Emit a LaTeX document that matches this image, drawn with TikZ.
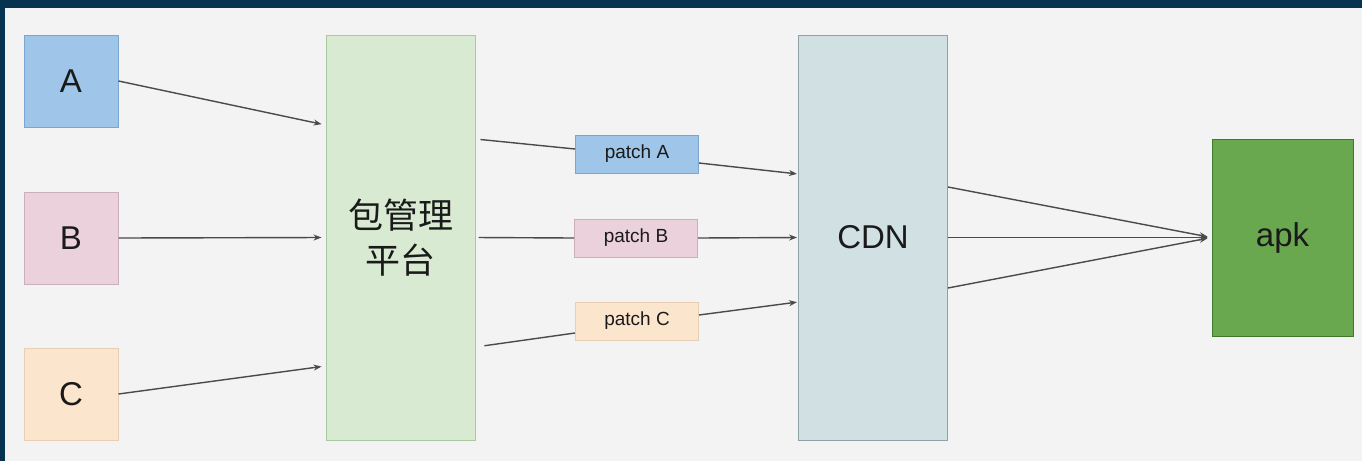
\documentclass[tikz,border=0pt]{standalone}
\usepackage{fontspec}
\setmainfont{Liberation Sans}
\newfontfamily\cjk{Noto Sans CJK SC}
\usetikzlibrary{arrows.meta}
\definecolor{bg}{HTML}{F3F3F3}
\definecolor{navy}{HTML}{063450}
\definecolor{cA}{HTML}{9FC5E8}\definecolor{dA}{HTML}{7AA6CF}
\definecolor{cB}{HTML}{EAD1DC}\definecolor{dB}{HTML}{CDAFBC}
\definecolor{cC}{HTML}{FCE5CD}\definecolor{dC}{HTML}{E8CFB3}
\definecolor{cP}{HTML}{D9EAD3}\definecolor{dP}{HTML}{A9C99F}
\definecolor{cD}{HTML}{D0E0E3}\definecolor{dD}{HTML}{8FA3A7}
\definecolor{cK}{HTML}{6AA84F}\definecolor{dK}{HTML}{3E7A27}
\definecolor{ln}{HTML}{4A4A4A}
\definecolor{tx}{HTML}{1A1A1A}
\begin{document}
\begin{tikzpicture}[x=1pt,y=-1pt,
  box/.style={draw, line width=1pt, inner sep=0pt, text=tx},
  src/.style={box, minimum width=94pt, minimum height=92pt, font=\fontsize{33}{36}\selectfont},
  tall/.style={box, minimum width=149pt, minimum height=405pt},
  patchbox/.style={box, minimum width=123pt, minimum height=38pt, font=\fontsize{19}{22}\selectfont},
  conn/.style={draw=ln, line width=1.4pt},
  arr/.style={conn, -{Stealth[length=8pt,width=6pt]}}]
\fill[bg] (0,0) rectangle (1362,461);
\fill[navy] (0,0) rectangle (1362,8);
\fill[navy] (0,0) rectangle (5,461);

\node[src, fill=cA, draw=dA] (A) at (71,81) {A};
\node[src, fill=cB, draw=dB] (B) at (71,238) {B};
\node[src, fill=cC, draw=dC] (C) at (71,394) {C};

\node[tall, fill=cP, draw=dP, align=center, font=\cjk\fontsize{35}{45}\selectfont] (pkg) at (400.5,237.5) {包管理\\平台};
\node[tall, fill=cD, draw=dD, font=\fontsize{33}{36}\selectfont] (cdn) at (873,237.5) {CDN};
\node[box, fill=cK, draw=dK, minimum width=141pt, minimum height=197pt, font=\fontsize{33}{36}\selectfont] (apk) at (1282.5,237.5) {apk};

\node[patchbox, fill=cA, draw=dA] (pA) at (637,154) {patch A};
\node[patchbox, fill=cB, draw=dB] (pB) at (636,238) {patch B};
\node[patchbox, fill=cC, draw=dC] (pC) at (637,321) {patch C};

% sources to platform
\draw[arr, shorten >=4pt] (A.east) -- ([yshift=112.5pt]pkg.west);
\draw[arr, shorten >=4pt] (B.east) -- (pkg.west);
\draw[arr, shorten >=4pt] (C.east) -- ([yshift=-128.5pt]pkg.west);

% platform to patches
\draw[conn, shorten <=5pt] ([yshift=98.5pt]pkg.east) -- ([yshift=5pt]pA.west);
\draw[conn, shorten <=3pt] (pkg.east) -- (pB.west);
\draw[conn, shorten <=9pt] ([yshift=-109.5pt]pkg.east) -- ([yshift=-12pt]pC.west);

% patches to CDN
\draw[arr, shorten >=1pt] ([yshift=-9pt]pA.east) -- ([yshift=63.5pt]cdn.west);
\draw[arr, shorten >=1pt] (pB.east) -- (cdn.west);
\draw[arr, shorten >=1pt] ([yshift=6pt]pC.east) -- ([yshift=-64.5pt]cdn.west);

% CDN to apk
\draw[arr, shorten >=4pt] ([yshift=50.5pt]cdn.east) -- (apk.west);
\draw[arr, shorten >=4pt] (cdn.east) -- (apk.west);
\draw[arr, shorten >=4pt] ([yshift=-50.5pt]cdn.east) -- (apk.west);
\end{tikzpicture}
\end{document}
